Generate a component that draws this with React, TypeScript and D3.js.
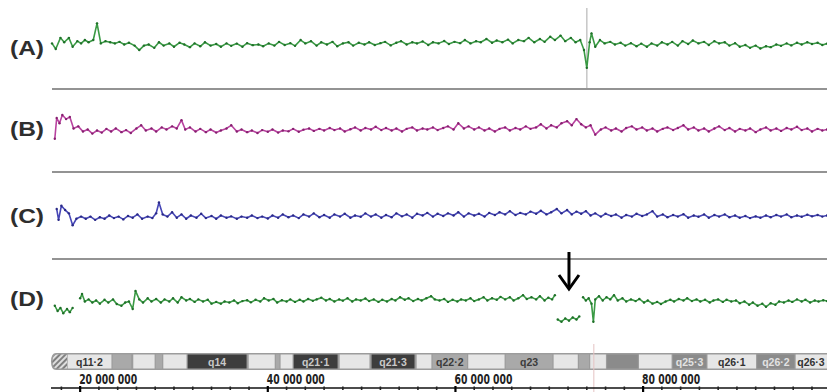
import React, { useEffect, useRef } from "react";
import * as d3 from "d3";

const W = 827;
const H = 392;

// [position (Mb), log2 ratio]; null = gap in coverage
const traceA: [number, number | null][] = [
  [17.0, 0.05], [17.4, -0.2], [17.9, 0.3], [18.3, 0.1], [18.8, 0.3], [19.2, -0.1], [19.7, 0.15], [20.1, 0.05],
  [20.5, 0.2], [20.9, 0.1], [21.4, 0.2], [21.8, 0.95], [22.2, 0.05], [22.7, 0.15], [23.2, 0.1], [23.7, 0.05],
  [24.2, 0.12], [24.7, 0.0], [25.2, 0.08], [25.8, -0.05], [26.3, -0.25], [26.8, -0.05], [27.3, 0.0], [27.9, -0.15],
  [28.4, 0.1], [28.9, -0.05], [29.5, 0.05], [30.0, -0.1], [30.6, 0.08], [31.1, 0.0], [31.7, -0.12], [32.2, 0.05],
  [32.8, -0.08], [33.3, 0.1], [33.9, -0.05], [34.5, 0.02], [35.0, -0.1], [35.6, 0.05], [36.1, -0.06], [36.7, 0.04],
  [37.3, -0.1], [37.8, 0.06], [38.4, -0.03], [39.0, 0.0], [39.5, -0.08], [40.1, 0.05], [40.7, -0.05], [41.2, 0.12],
  [41.8, -0.02], [42.4, 0.06], [42.9, -0.06], [43.5, 0.2], [44.0, 0.05], [44.6, 0.15], [45.2, -0.05], [45.7, 0.1],
  [46.3, 0.0], [46.9, 0.12], [47.4, -0.08], [48.0, 0.05], [48.6, 0.1], [49.1, -0.05], [49.7, 0.08], [50.3, 0.0],
  [50.8, 0.1], [51.4, -0.02], [52.0, 0.06], [52.5, 0.12], [53.1, -0.04], [53.7, 0.08], [54.2, 0.15], [54.8, 0.0],
  [55.4, 0.1], [55.9, 0.05], [56.5, 0.14], [57.1, -0.02], [57.6, 0.1], [58.2, 0.05], [58.8, 0.16], [59.3, 0.02],
  [59.9, 0.12], [60.5, 0.06], [61.0, 0.2], [61.6, 0.05], [62.2, 0.15], [62.7, 0.1], [63.3, 0.25], [63.9, 0.08],
  [64.4, 0.18], [65.0, 0.1], [65.6, 0.22], [66.1, 0.05], [66.7, 0.2], [67.3, 0.15], [67.8, 0.3], [68.4, 0.1],
  [69.0, 0.25], [69.5, 0.12], [70.1, 0.35], [70.6, 0.2], [71.2, 0.4], [71.7, 0.15], [72.3, 0.3], [72.8, 0.1],
  [73.3, 0.2], [73.7, -0.25], [74.0, -1.05], [74.3, 0.1], [74.5, 0.5], [74.9, -0.1], [75.4, 0.2], [75.9, 0.05],
  [76.5, 0.12], [77.0, 0.0], [77.6, 0.08], [78.1, -0.05], [78.7, 0.06], [79.3, -0.08], [79.8, 0.04], [80.4, -0.1],
  [80.9, 0.05], [81.5, -0.05], [82.0, 0.1], [82.6, 0.0], [83.1, 0.12], [83.7, -0.05], [84.2, 0.15], [84.8, 0.02],
  [85.3, 0.18], [85.9, 0.05], [86.5, 0.12], [87.0, -0.02], [87.6, 0.15], [88.1, 0.05], [88.7, 0.1], [89.2, -0.05],
  [89.8, 0.06], [90.3, -0.1], [90.9, -0.02], [91.4, -0.15], [92.0, -0.05], [92.5, -0.18], [93.1, -0.08], [93.6, -0.12],
  [94.2, 0.0], [94.7, -0.06], [95.3, 0.05], [95.8, -0.04], [96.4, 0.08], [96.9, 0.0], [97.5, 0.1], [98.0, 0.02],
  [98.6, 0.08], [99.1, -0.02], [99.6, 0.04],
];

const traceB: [number, number | null][] = [
  [17.3, -0.4], [17.5, 0.6], [17.8, 0.35], [18.1, 0.75], [18.5, 0.55], [18.9, 0.65], [19.3, 0.1], [19.8, 0.2],
  [20.3, -0.05], [20.8, 0.05], [21.3, -0.15], [21.8, 0.0], [22.3, -0.1], [22.8, 0.08], [23.3, -0.05], [23.8, 0.1],
  [24.4, -0.08], [24.9, 0.02], [25.4, -0.12], [26.0, 0.1], [26.5, 0.25], [27.0, 0.0], [27.6, 0.1], [28.1, -0.05],
  [28.7, 0.15], [29.2, 0.05], [29.8, 0.2], [30.3, 0.1], [30.8, 0.5], [31.2, 0.05], [31.7, 0.15], [32.3, -0.05],
  [32.8, 0.08], [33.4, -0.08], [33.9, 0.05], [34.5, -0.1], [35.0, 0.0], [35.6, 0.1], [36.1, 0.25], [36.7, -0.05],
  [37.2, 0.05], [37.8, -0.08], [38.3, 0.0], [38.9, -0.12], [39.4, 0.02], [40.0, -0.06], [40.5, 0.05], [41.1, -0.1],
  [41.6, 0.0], [42.2, -0.04], [42.7, 0.08], [43.3, -0.06], [43.8, 0.04], [44.4, 0.1], [44.9, -0.02], [45.5, 0.08],
  [46.0, 0.0], [46.6, 0.12], [47.1, 0.02], [47.7, 0.1], [48.2, -0.05], [48.8, 0.06], [49.3, 0.15], [49.9, 0.0],
  [50.4, 0.12], [51.0, 0.05], [51.5, 0.18], [52.1, 0.02], [52.6, 0.12], [53.2, 0.0], [53.7, 0.1], [54.3, -0.05],
  [54.8, 0.08], [55.4, 0.15], [55.9, 0.0], [56.5, 0.1], [57.0, 0.05], [57.6, 0.15], [58.1, 0.02], [58.7, 0.12],
  [59.2, 0.2], [59.8, 0.05], [60.3, 0.35], [60.9, 0.1], [61.4, 0.2], [62.0, 0.05], [62.5, 0.15], [63.1, 0.0],
  [63.6, 0.1], [64.2, -0.05], [64.7, 0.08], [65.3, 0.15], [65.8, 0.0], [66.4, 0.12], [66.9, 0.05], [67.5, 0.2],
  [68.0, 0.08], [68.6, 0.15], [69.1, 0.3], [69.7, 0.1], [70.2, 0.25], [70.8, 0.15], [71.3, 0.35], [71.9, 0.45],
  [72.4, 0.25], [72.9, 0.55], [73.4, 0.3], [73.9, 0.15], [74.4, 0.25], [74.9, -0.2], [75.5, 0.05], [76.0, 0.15],
  [76.6, 0.0], [77.1, 0.1], [77.7, -0.05], [78.2, 0.12], [78.8, 0.2], [79.3, 0.05], [79.9, 0.15], [80.4, 0.0],
  [81.0, 0.1], [81.5, -0.05], [82.1, 0.08], [82.6, 0.15], [83.2, 0.02], [83.7, 0.12], [84.3, 0.25], [84.8, 0.05],
  [85.4, 0.15], [85.9, 0.0], [86.5, 0.1], [87.0, -0.05], [87.6, 0.1], [88.1, 0.2], [88.7, 0.02], [89.2, 0.12],
  [89.8, -0.05], [90.3, 0.08], [90.9, 0.0], [91.4, 0.1], [92.0, -0.08], [92.5, 0.05], [93.1, 0.15], [93.6, 0.0],
  [94.2, 0.1], [94.7, -0.02], [95.3, 0.12], [95.8, 0.05], [96.4, 0.18], [96.9, 0.02], [97.5, 0.1], [98.0, -0.05],
  [98.6, 0.08], [99.1, 0.0], [99.6, 0.05],
];

const traceC: [number, number | null][] = [
  [17.5, 0.3], [17.7, -0.2], [18.0, 0.45], [18.4, 0.25], [18.8, 0.1], [19.2, -0.45], [19.6, -0.15], [20.1, -0.05],
  [20.6, -0.15], [21.1, -0.05], [21.6, -0.2], [22.1, -0.08], [22.6, -0.15], [23.1, 0.0], [23.6, -0.12], [24.1, -0.05],
  [24.6, -0.18], [25.1, -0.02], [25.6, -0.1], [26.1, 0.05], [26.6, -0.15], [27.2, -0.05], [27.7, -0.12], [28.1, 0.1],
  [28.4, 0.6], [28.8, 0.05], [29.3, -0.05], [29.8, 0.15], [30.3, -0.1], [30.8, 0.05], [31.3, -0.15], [31.8, 0.0],
  [32.4, -0.1], [32.9, 0.08], [33.4, -0.12], [34.0, -0.02], [34.5, -0.15], [35.0, 0.0], [35.6, -0.1], [36.1, -0.04],
  [36.7, -0.15], [37.2, -0.05], [37.8, -0.1], [38.3, 0.0], [38.9, -0.12], [39.4, -0.05], [40.0, -0.14], [40.5, 0.0],
  [41.1, -0.1], [41.6, 0.05], [42.2, -0.08], [42.7, 0.0], [43.3, -0.12], [43.8, 0.05], [44.4, -0.05], [44.9, 0.1],
  [45.5, -0.08], [46.0, 0.02], [46.6, -0.1], [47.1, 0.05], [47.7, -0.05], [48.2, 0.08], [48.8, -0.1], [49.3, 0.0],
  [49.9, -0.06], [50.4, 0.1], [51.0, -0.05], [51.5, 0.05], [52.1, -0.1], [52.6, 0.02], [53.2, -0.08], [53.7, 0.1],
  [54.3, -0.04], [54.8, 0.05], [55.4, -0.1], [55.9, 0.08], [56.5, 0.0], [57.0, 0.12], [57.6, -0.05], [58.1, 0.08],
  [58.7, -0.02], [59.2, 0.1], [59.8, 0.0], [60.3, 0.15], [60.9, -0.05], [61.4, 0.1], [62.0, 0.0], [62.5, 0.08],
  [63.1, -0.05], [63.6, 0.12], [64.2, 0.02], [64.7, 0.15], [65.3, 0.05], [65.8, 0.2], [66.4, 0.02], [66.9, 0.12],
  [67.5, 0.05], [68.0, 0.18], [68.6, 0.08], [69.1, 0.22], [69.7, 0.05], [70.2, 0.15], [70.8, 0.3], [71.3, 0.1],
  [71.9, 0.25], [72.4, 0.05], [72.9, 0.18], [73.4, 0.08], [73.9, 0.2], [74.4, 0.0], [74.9, 0.1], [75.5, -0.05],
  [76.0, 0.08], [76.6, -0.02], [77.1, 0.05], [77.7, -0.1], [78.2, 0.02], [78.8, -0.05], [79.3, 0.08], [79.9, -0.02],
  [80.4, 0.05], [81.0, 0.2], [81.5, -0.05], [82.1, 0.05], [82.6, -0.08], [83.2, 0.02], [83.7, -0.05], [84.3, 0.06],
  [84.8, -0.1], [85.4, 0.0], [85.9, -0.06], [86.5, 0.05], [87.0, -0.1], [87.6, 0.02], [88.1, -0.05], [88.7, 0.05],
  [89.2, -0.08], [89.8, 0.0], [90.3, -0.1], [90.9, -0.02], [91.4, -0.12], [92.0, -0.04], [92.5, -0.1], [93.1, 0.0],
  [93.6, -0.08], [94.2, 0.02], [94.7, -0.05], [95.3, 0.05], [95.8, -0.08], [96.4, 0.0], [96.9, -0.06], [97.5, 0.04],
  [98.0, -0.04], [98.6, 0.02], [99.1, -0.05], [99.6, 0.0],
];

const traceD: [number, number | null][] = [
  [17.3, -0.2], [17.6, -0.45], [17.9, -0.3], [18.2, -0.55], [18.6, -0.35], [18.9, -0.5], [19.2, -0.3], [19.5, null],
  [20.0, 0.15], [20.2, 0.35], [20.5, 0.0], [20.9, 0.1], [21.3, -0.05], [21.7, 0.05], [22.1, -0.1], [22.6, 0.08],
  [23.0, -0.05], [23.5, 0.1], [23.9, -0.12], [24.4, -0.2], [24.8, -0.05], [25.2, 0.0], [25.6, -0.35], [25.9, 0.5],
  [26.3, 0.1], [26.7, -0.05], [27.2, 0.15], [27.6, 0.0], [28.1, 0.12], [28.6, -0.05], [29.0, 0.1], [29.5, 0.0],
  [29.9, 0.15], [30.4, -0.05], [30.8, 0.2], [31.3, 0.05], [31.7, 0.12], [32.2, -0.02], [32.6, 0.1], [33.1, 0.0],
  [33.6, 0.08], [34.0, -0.1], [34.5, -0.02], [35.0, -0.1], [35.4, 0.0], [35.9, -0.05], [36.4, 0.05], [36.8, -0.08],
  [37.3, 0.02], [37.8, 0.06], [38.2, -0.04], [38.7, 0.08], [39.2, 0.0], [39.6, 0.15], [40.1, 0.05], [40.6, 0.12],
  [41.0, -0.05], [41.5, 0.06], [42.0, 0.0], [42.4, 0.1], [42.9, -0.02], [43.4, 0.08], [43.8, 0.0], [44.3, 0.12],
  [44.8, 0.03], [45.2, 0.1], [45.7, 0.18], [46.2, 0.05], [46.6, 0.12], [47.1, 0.0], [47.6, 0.1], [48.0, 0.04],
  [48.5, 0.15], [49.0, 0.0], [49.4, 0.1], [49.9, 0.05], [50.4, 0.14], [50.8, 0.02], [51.3, 0.1], [51.8, -0.02],
  [52.2, 0.08], [52.7, 0.0], [53.2, 0.12], [53.6, 0.05], [54.1, 0.2], [54.6, 0.08], [55.0, 0.15], [55.5, 0.02],
  [56.0, 0.12], [56.4, 0.05], [56.9, 0.15], [57.4, 0.25], [57.8, 0.1], [58.3, 0.05], [58.8, 0.12], [59.2, -0.02],
  [59.7, 0.08], [60.2, 0.0], [60.6, 0.1], [61.1, 0.05], [61.6, 0.15], [62.0, 0.02], [62.5, 0.1], [63.0, 0.2],
  [63.4, 0.05], [63.9, 0.15], [64.4, 0.08], [64.8, 0.22], [65.3, 0.1], [65.8, 0.2], [66.2, 0.05], [66.7, 0.15],
  [67.2, 0.3], [67.6, 0.12], [68.1, 0.2], [68.6, 0.1], [69.0, 0.25], [69.5, 0.05], [69.9, 0.18], [70.3, 0.1],
  [70.6, 0.3], [70.8, null],
  [70.9, -0.85], [71.3, -0.95], [71.7, -0.8], [72.1, -0.9], [72.5, -0.75], [72.9, -0.85], [73.2, -0.7], [73.4, null],
  [73.6, 0.2], [73.9, 0.05], [74.2, 0.15], [74.5, -0.1], [74.7, -0.95], [74.9, 0.1], [75.3, 0.25], [75.7, 0.05],
  [76.1, 0.2], [76.5, 0.1], [76.9, 0.3], [77.3, 0.05], [77.8, 0.15], [78.2, 0.0], [78.7, 0.1], [79.2, 0.02],
  [79.6, 0.12], [80.1, -0.05], [80.5, 0.05], [81.0, -0.1], [81.5, -0.02], [81.9, -0.12], [82.4, 0.0], [82.9, 0.08],
  [83.3, 0.0], [83.8, 0.12], [84.3, 0.05], [84.7, 0.15], [85.2, 0.02], [85.7, 0.1], [86.1, 0.0], [86.6, 0.08],
  [87.1, -0.05], [87.5, 0.05], [88.0, 0.1], [88.5, -0.02], [88.9, 0.08], [89.4, 0.0], [89.9, 0.05], [90.3, -0.08],
  [90.8, 0.0], [91.3, -0.15], [91.7, -0.05], [92.2, -0.2], [92.7, -0.1], [93.1, -0.25], [93.6, -0.08], [94.1, -0.15],
  [94.5, 0.0], [95.0, -0.05], [95.5, 0.05], [95.9, -0.02], [96.4, 0.1], [96.9, 0.0], [97.3, 0.08], [97.8, -0.05],
  [98.3, 0.05], [98.7, 0.0], [99.2, 0.06], [99.6, 0.02],
];

const panelLabels = ["(A)", "(B)", "(C)", "(D)"];

// cytoband ideogram (Mb)
const bandStart = [18.6, 23.4, 25.6, 28.0, 28.8, 31.4, 37.9, 40.8, 41.3, 42.7, 47.6, 51.0, 55.8, 57.5, 61.3, 65.3, 70.4, 73.1, 74.3, 76.1, 79.5, 83.1, 86.8, 92.1, 96.2];
const bandEnd = [23.4, 25.5, 28.0, 28.8, 31.4, 37.8, 40.8, 41.3, 42.7, 47.5, 50.9, 55.7, 57.5, 61.3, 65.3, 70.4, 73.1, 74.3, 76.1, 79.5, 83.1, 86.8, 92.1, 96.2, 100.6];
const bandStain = ["light", "medium", "light", "medium", "light", "dark", "light", "medium", "light", "dark", "light", "dark", "light", "medium", "light", "medium", "light", "medium", "light", "gray", "light", "gray", "light", "gray", "light"];
const bandName = ["q11·2", "", "", "", "", "q14", "", "", "", "q21·1", "", "q21·3", "", "q22·2", "", "q23", "", "", "", "", "", "q25·3", "q26·1", "q26·2", "q26·3"];

const majorTicks = [20, 40, 60, 80];
const arrowMb = 72.1;
const markerMb = 74.0;

const stainFill: Record<string, string> = { light: "#e6e6e6", medium: "#a9a9a9", gray: "#8b8b8b", dark: "#3d3d3d" };
const stainText: Record<string, string> = { light: "#333", medium: "#3c3c3c", gray: "#e2e2e2", dark: "#c9c9c9" };

export default function App() {
  const ref = useRef<SVGSVGElement>(null);

  useEffect(() => {
    if (!ref.current) return;
    const svg = d3.select(ref.current);
    svg.selectAll("*").remove();

    const x = d3.scaleLinear().domain([17.0, 99.6]).range([52, 827]);

    const panels = [
      { data: traceA, top: 0, bottom: 89, line: "#3a9a44", dot: "#1f7029", labelY: 55 },
      { data: traceB, top: 89, bottom: 172, line: "#b8429f", dot: "#86206f", labelY: 136 },
      { data: traceC, top: 172, bottom: 259, line: "#4646b6", dot: "#2a2a86", labelY: 223 },
      { data: traceD, top: 259, bottom: 344, line: "#3a9a44", dot: "#1f7029", labelY: 306 },
    ];

    // marker line through panel A
    svg.append("line")
      .attr("x1", x(markerMb)).attr("x2", x(markerMb))
      .attr("y1", 8).attr("y2", 89)
      .attr("stroke", "#c6c6c6").attr("stroke-width", 1.5);

    panels.forEach((p, i) => {
      const y = d3.scaleLinear().domain([-2, 2]).range([p.bottom, p.top]);
      const line = d3.line<[number, number | null]>()
        .defined((d) => d[1] !== null)
        .x((d) => x(d[0]))
        .y((d) => y(d[1] as number));

      svg.append("path")
        .datum(p.data)
        .attr("fill", "none")
        .attr("stroke", p.line)
        .attr("stroke-width", 1.6)
        .attr("stroke-linejoin", "round")
        .attr("d", line);

      svg.append("g")
        .selectAll("circle")
        .data(p.data.filter((d) => d[1] !== null))
        .join("circle")
        .attr("cx", (d) => x(d[0]))
        .attr("cy", (d) => y(d[1] as number))
        .attr("r", 1.2)
        .attr("fill", p.dot);

      svg.append("text")
        .attr("x", 10)
        .attr("y", p.labelY)
        .attr("textLength", 34)
        .attr("lengthAdjust", "spacingAndGlyphs")
        .attr("fill", "#2e2e2e")
        .style("font-family", "'Liberation Sans', Arial, sans-serif")
        .style("font-size", "21px")
        .style("font-weight", "700")
        .text(panelLabels[i]);

      if (i < panels.length - 1) {
        svg.append("line")
          .attr("x1", 52).attr("x2", 827)
          .attr("y1", p.bottom).attr("y2", p.bottom)
          .attr("stroke", "#939393").attr("stroke-width", 2);
      }
    });

    // arrow over deletion in panel D
    const ax = x(arrowMb);
    svg.append("line")
      .attr("x1", ax).attr("x2", ax).attr("y1", 252).attr("y2", 287)
      .attr("stroke", "#000").attr("stroke-width", 3);
    svg.append("path")
      .attr("d", `M${ax - 10},275 L${ax},289 L${ax + 10},275`)
      .attr("fill", "none").attr("stroke", "#000").attr("stroke-width", 3);

    // ideogram
    const defs = svg.append("defs");
    const pat = defs.append("pattern")
      .attr("id", "hatch")
      .attr("patternUnits", "userSpaceOnUse")
      .attr("width", 4).attr("height", 4)
      .attr("patternTransform", "rotate(45)");
    pat.append("rect").attr("width", 4).attr("height", 4).attr("fill", "#dedede");
    pat.append("line").attr("x1", 1).attr("x2", 1).attr("y1", 0).attr("y2", 4)
      .attr("stroke", "#6f6f6f").attr("stroke-width", 1.7);

    const iy0 = 353, iy1 = 370;
    const capEnd = x(bandStart[0]);
    svg.append("path")
      .attr("d", `M${W},${iy0} L56,${iy0} Q51,${iy0} 51,${(iy0 + iy1) / 2} Q51,${iy1} 56,${iy1} L${W},${iy1} Z`)
      .attr("fill", "#9c9c9c");
    svg.append("path")
      .attr("d", `M${capEnd},${iy0 + 1.5} L57,${iy0 + 1.5} Q52.5,${iy0 + 1.5} 52.5,${(iy0 + iy1) / 2} Q52.5,${iy1 - 1.5} 57,${iy1 - 1.5} L${capEnd},${iy1 - 1.5} Z`)
      .attr("fill", "url(#hatch)");

    const bands = bandStart.map((s, i) => ({ s, e: bandEnd[i], stain: bandStain[i], name: bandName[i] }));
    const bg = svg.append("g");
    bg.selectAll("rect")
      .data(bands)
      .join("rect")
      .attr("x", (d) => x(d.s) + 0.6)
      .attr("width", (d) => Math.max(0, x(d.e) - x(d.s) - 1.2))
      .attr("y", iy0 + 1.5)
      .attr("height", iy1 - iy0 - 3)
      .attr("fill", (d) => stainFill[d.stain]);
    bg.selectAll("text")
      .data(bands.filter((d) => d.name))
      .join("text")
      .attr("x", (d) => Math.min((x(d.s) + x(d.e)) / 2, W - 16))
      .attr("y", (iy0 + iy1) / 2 + 4)
      .attr("text-anchor", "middle")
      .attr("fill", (d) => stainText[d.stain])
      .style("font-family", "'Liberation Sans', Arial, sans-serif")
      .style("font-size", "10.5px")
      .style("font-weight", "700")
      .text((d) => d.name);

    // faint marker through the ideogram
    svg.append("line")
      .attr("x1", x(74.75)).attr("x2", x(74.75)).attr("y1", 344).attr("y2", H)
      .attr("stroke", "#e4c2c2").attr("stroke-width", 1);

    // position axis
    const axisY = 388;
    const fmt = d3.formatLocale({ decimal: ".", thousands: " ", grouping: [3], currency: ["", ""] }).format(",");
    svg.append("line")
      .attr("x1", 51).attr("x2", W).attr("y1", axisY).attr("y2", axisY)
      .attr("stroke", "#111").attr("stroke-width", 1.6);
    svg.append("g")
      .selectAll("line")
      .data(x.ticks(40).filter((t) => !majorTicks.includes(t)))
      .join("line")
      .attr("x1", (d) => x(d)).attr("x2", (d) => x(d))
      .attr("y1", axisY - 1.5).attr("y2", axisY + 2)
      .attr("stroke", "#222").attr("stroke-width", 1.6);
    svg.append("g")
      .selectAll("line")
      .data(majorTicks)
      .join("line")
      .attr("x1", (d) => x(d)).attr("x2", (d) => x(d))
      .attr("y1", axisY - 2).attr("y2", H)
      .attr("stroke", "#000").attr("stroke-width", 2.2);
    svg.append("g")
      .selectAll("text")
      .data(majorTicks)
      .join("text")
      .attr("x", (d) => x(d) - 1)
      .attr("y", 384)
      .attr("textLength", 58)
      .attr("lengthAdjust", "spacingAndGlyphs")
      .attr("fill", "#222")
      .style("font-family", "'Liberation Sans Narrow', 'DejaVu Sans Condensed', Arial, sans-serif")
      .style("font-size", "13.5px")
      .style("font-weight", "700")
      .text((d) => fmt(d * 1e6));
  }, []);

  return (
    <svg
      ref={ref}
      width={W}
      height={H}
      style={{ position: "absolute", left: 0, top: 0, background: "#fff" }}
    />
  );
}
